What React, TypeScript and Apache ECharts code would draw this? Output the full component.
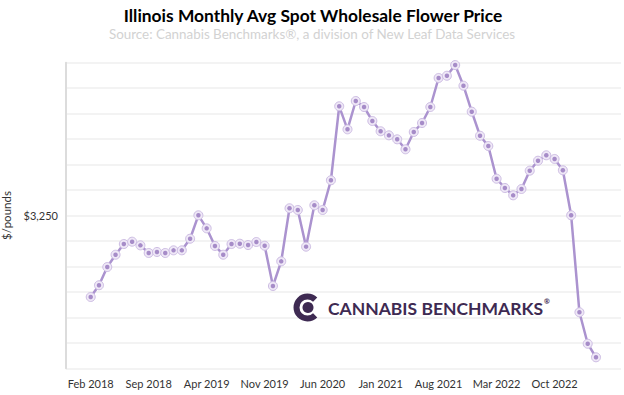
import React, { useEffect, useRef } from "react";
import * as echarts from "echarts";

const months: string[] = (() => {
  const names = ["Jan", "Feb", "Mar", "Apr", "May", "Jun", "Jul", "Aug", "Sep", "Oct", "Nov", "Dec"];
  const out: string[] = [];
  let m = 1, y = 2018;
  for (let i = 0; i < 62; i++) {
    out.push(`${names[m]} ${y}`);
    m++;
    if (m === 12) { m = 0; y++; }
  }
  return out;
})();

const prices: number[] = [
  2450, 2565, 2744, 2865, 2970, 2993, 2957, 2882, 2892, 2882,
  2908, 2908, 3022, 3252, 3124, 2951, 2865, 2970, 2973, 2960,
  2990, 2953, 2558, 2800, 3321, 3304, 2944, 3350, 3304, 3596,
  4322, 4096, 4374, 4315, 4178, 4077, 4037, 3998, 3900, 4070,
  4158, 4315, 4600, 4622, 4727, 4524, 4269, 4033, 3932, 3611,
  3520, 3448, 3510, 3690, 3788, 3841, 3805, 3694, 3252, 2300,
  1991, 1858,
];

const labelEvery = 7;
const shownYLabel = 3250;
const yMin = 1750;
const yMax = 4750;
const yStep = 250;

export default function App() {
  const ref = useRef<HTMLDivElement>(null);
  useEffect(() => {
    if (!ref.current) return;
    const chart = echarts.init(ref.current, null, { renderer: "svg" });
    const font = "Lato, 'Open Sans', sans-serif";
    chart.setOption({
      animation: false,
      backgroundColor: "#ffffff",
      textStyle: { fontFamily: font },
      grid: [
        { left: 66, right: 3, top: 62.7, bottom: 26.7, outerBoundsMode: "none", containLabel: false },
        { left: 90.7, right: 28, top: 62.7, bottom: 26.7, outerBoundsMode: "none", containLabel: false },
      ],
      xAxis: [
        {
          type: "value",
          gridIndex: 0,
          min: 0,
          max: 1,
          show: false,
        },
        {
          type: "category",
          gridIndex: 1,
          data: months,
          boundaryGap: false,
          axisLine: { show: false },
          axisTick: { show: false },
          splitLine: { show: false },
          axisLabel: {
            color: "#333333",
            fontSize: 11,
            margin: 10,
            interval: labelEvery - 1,
            fontFamily: font,
          },
        },
      ],
      yAxis: [
        {
          type: "value",
          gridIndex: 0,
          min: yMin,
          max: yMax,
          interval: yStep,
          name: "$/pounds",
          nameLocation: "middle",
          nameRotate: 90,
          nameGap: 51,
          nameTextStyle: { color: "#333333", fontSize: 11.5, fontFamily: font },
          axisLine: { show: true, onZero: false, lineStyle: { color: "#dcdcdc", width: 2 } },
          axisTick: { show: false },
          axisLabel: {
            color: "#333333",
            fontSize: 11,
            margin: 8,
            fontFamily: font,
            formatter: (v: number) => (v === shownYLabel ? "$3,250" : ""),
          },
          splitLine: { show: true, lineStyle: { color: "#efefef", width: 1.5 } },
        },
        {
          type: "value",
          gridIndex: 1,
          min: yMin,
          max: yMax,
          interval: yStep,
          show: false,
          splitLine: { show: false },
        },
      ],
      graphic: [
        {
          type: "text",
          x: 313,
          y: 15,
          style: {
            text: "Illinois Monthly Avg Spot Wholesale Flower Price",
            fill: "#000000",
            font: `bold 17.4px ${font}`,
            textAlign: "center",
            textVerticalAlign: "middle",
          },
        },
        {
          type: "text",
          x: 312,
          y: 34,
          style: {
            text: "Source: Cannabis Benchmarks®, a division of New Leaf Data Services",
            fill: "#d2d2d2",
            font: `13.4px ${font}`,
            textAlign: "center",
            textVerticalAlign: "middle",
          },
        },
        {
          type: "arc",
          z: 1,
          shape: { cx: 307.5, cy: 307.5, r: 11, startAngle: 0.8, endAngle: Math.PI * 2 - 0.8, clockwise: true },
          style: { stroke: "#3e2a52", lineWidth: 6, fill: null },
        },
        {
          type: "circle",
          z: 1,
          shape: { cx: 308, cy: 307.5, r: 5.5 },
          style: { fill: "#3e2a52" },
        },
        {
          type: "text",
          z: 1,
          x: 328,
          y: 308,
          style: {
            text: "CANNABIS BENCHMARKS",
            fill: "#3e2a52",
            font: `bold 17.5px ${font}`,
            textAlign: "left",
            textVerticalAlign: "middle",
          },
        },
        {
          type: "text",
          z: 1,
          x: 544,
          y: 301,
          style: {
            text: "®",
            fill: "#3e2a52",
            font: `bold 7px ${font}`,
            textAlign: "left",
            textVerticalAlign: "middle",
          },
        },
      ],
      series: [
        {
          type: "line",
          xAxisIndex: 1,
          yAxisIndex: 1,
          data: prices,
          symbol: "circle",
          symbolSize: 9,
          showSymbol: true,
          showAllSymbol: true,
          lineStyle: { color: "#ab93cf", width: 2.5 },
          itemStyle: { color: "#efe8f7", borderColor: "#cdbde3", borderWidth: 1 },
          z: 3,
        },
        {
          type: "scatter",
          xAxisIndex: 1,
          yAxisIndex: 1,
          data: prices,
          symbol: "circle",
          symbolSize: 4.5,
          itemStyle: { color: "#9474bb" },
          z: 4,
        },
      ],
    });
    return () => chart.dispose();
  }, []);
  return (
    <div
      ref={ref}
      style={{ position: "absolute", left: 0, top: 0, width: 624, height: 395 }}
    />
  );
}
